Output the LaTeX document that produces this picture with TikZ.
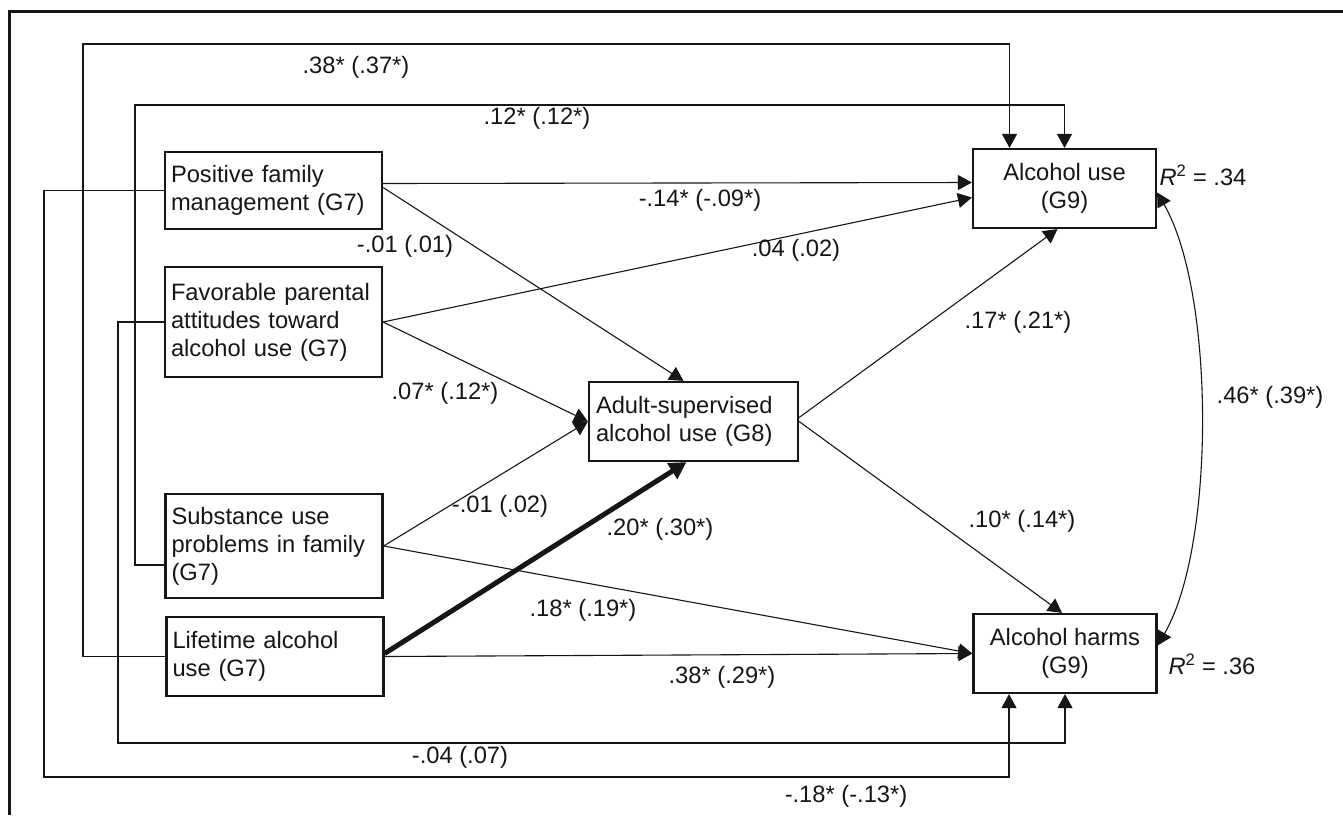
\documentclass[tikz,border=0pt]{standalone}
\usepackage{fontspec}
\setmainfont{Liberation Sans}
\usepackage{tikz}
\usetikzlibrary{arrows.meta,positioning,calc}
\definecolor{ink}{RGB}{22,22,22}

\tikzset{
  varbox/.style={draw=ink,line width=2.2pt,text=ink,inner xsep=9pt,inner ysep=4pt,
    font=\fontsize{23.7}{28}\selectfont},
  leftbox/.style={varbox,align=left,inner xsep=6pt,text width=205pt,minimum height=#1},
  outbox/.style={varbox,align=center,minimum width=183pt,minimum height=79pt},
  link/.style={draw=ink,line width=1.1pt,-{Triangle[length=14pt,width=15pt]}},
  coef/.style={text=ink,inner sep=0pt,font=\fontsize{23.7}{28}\selectfont},
}

\begin{document}
\begin{tikzpicture}[x=1pt,y=-1pt]
  \path[use as bounding box,fill=white] (0,0) rectangle (1343,815);
  % frame (open to the right and bottom)
  \draw[ink,line width=3pt] (9,815) -- (9,11) -- (1343,11);

  % grade 7 predictors
  \node[leftbox=77pt] (pfm) at (273.5,190.5) {Positive family\\management (G7)};
  \node[leftbox=110pt] (fpa) at (273.5,322) {Favorable parental\\attitudes toward\\alcohol use (G7)};
  \node[leftbox=104pt] (sup) at (274,546) {Substance use\\problems in family\\(G7)};
  \node[leftbox=79pt] (lif) at (275,656.5) {Lifetime alcohol\\use (G7)};
  % mediator and outcomes
  \node[varbox,align=left,inner xsep=7pt,text width=195pt,minimum height=79pt] (adult)
    at (693.5,421.5) {Adult-supervised\\alcohol use (G8)};
  \node[outbox] (use) at (1064.5,188.5) {Alcohol use\\(G9)};
  \node[outbox] (harm) at (1065,653.5) {Alcohol harms\\(G9)};

  % rails for the long paths
  \coordinate (railA) at (83,44);
  \coordinate (railB) at (135,105);
  \coordinate (railC) at (44,777);
  \coordinate (railD) at (118,743);

  \draw[link] (lif.west) -| (railA) -| ([xshift=-55pt]use.north);
  \draw[link] ([yshift=-19pt]sup.west) -| (railB) -| (use.north);
  \draw[link] (pfm.west) -| (railC) -| ([xshift=-56pt]harm.south);
  \draw[link] (fpa.west) -| (railD) -| (harm.south);

  \draw[link] ([yshift=7pt]pfm.east) -- ([yshift=6pt]use.west);
  \draw[link] ([yshift=3pt]pfm.east) -- ([xshift=-10pt]adult.north);
  \draw[link] (fpa.east) -- ([yshift=-9pt]use.west);
  \draw[link] (fpa.east) -- (adult.west);
  \draw[link] (sup.east) -- (adult.west);
  \draw[link] (sup.east) -- (harm.west);
  \draw[link] (lif.east) -- (harm.west);
  \draw[link,line width=5pt,-{Triangle[length=17pt,width=18pt]}]
    ([yshift=3pt]lif.east) -- ([xshift=-7pt]adult.south);
  \draw[link] ([yshift=4pt]adult.east) -- ([xshift=-7pt]use.south);
  \draw[link] (adult.east) -- ([xshift=-3pt]harm.north);
  \draw[link,{Triangle[length=14pt,width=15pt]}-{Triangle[length=14pt,width=15pt]}]
    ([yshift=-4pt]use.east) .. controls +(58,100) and +(58,-100) .. ([yshift=8pt]harm.east);

  % coefficients
  \node[coef] (c1) at (356,67) {.38* (.37*)};
  \node[coef] (c2) at (537,118) {.12* (.12*)};
  \node[coef] (c3) at (700,200) {-.14* (-.09*)};
  \node[coef] (c4) at (405,246) {-.01 (.01)};
  \node[coef] (c5) at (796,250) {.04 (.02)};
  \node[coef] (c6) at (445,393) {.07* (.12*)};
  \node[coef] (c7) at (500,506) {-.01 (.02)};
  \node[coef] (c8) at (660,529) {.20* (.30*)};
  \node[coef] (c9) at (583,610) {.18* (.19*)};
  \node[coef] (c10) at (722,677) {.38* (.29*)};
  \node[coef] (c11) at (460,757) {-.04 (.07)};
  \node[coef] (c12) at (846,796) {-.18* (-.13*)};
  \node[coef] (c13) at (1018,322) {.17* (.21*)};
  \node[coef] (c14) at (1022,521) {.10* (.14*)};
  \node[coef] (c15) at (1270,397) {.46* (.39*)};
  \node[coef] (r1) at (1203,175) {{\itshape R}\textsuperscript{2} = .34};
  \node[coef] (r2) at (1212,664) {{\itshape R}\textsuperscript{2} = .36};
\end{tikzpicture}
\end{document}
